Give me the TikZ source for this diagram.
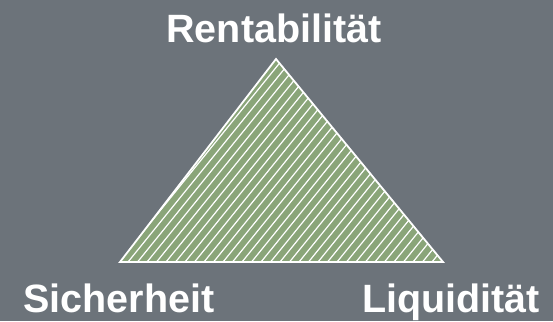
\documentclass[tikz,border=0pt]{standalone}
\usepackage{fontspec}
\setmainfont{Liberation Sans}
\usepackage{tikz}
\usetikzlibrary{positioning}
\definecolor{cBack}{HTML}{6C737A}
\definecolor{cLeaf}{HTML}{8AA579}
\definecolor{cChalk}{HTML}{FFFFFF}
\tikzset{
  corner/.style ={font=\fontsize{39.5}{42}\selectfont\bfseries,text=cChalk,
                  inner sep=0pt,anchor=base},
  hatch/.style  ={cChalk,line width=1.2pt},
  rim/.style    ={draw=cChalk,line width=1.8pt,line join=miter},
}

\begin{document}
\begin{tikzpicture}[x=1pt,y=1pt]
% background
\fill[cBack] (0,0) rectangle (553,321);
\useasboundingbox (0,0) rectangle (553,321);

% corners of the triangle
\coordinate (top)   at (276,262);
\coordinate (left)  at (120,59);
\coordinate (right) at (443,59);

% green area with white stripes
\fill[cLeaf] (left) -- (top) -- (right) -- cycle;
\begin{scope}
  \clip (left) -- (top) -- (right) -- cycle;
  \foreach \x in {-100,-90.5,...,450}
    \draw[hatch] (\x,59) -- ++(51:320);
\end{scope}
\draw[rim] (left) -- (top) -- (right) -- cycle;

% labels
\node[corner] (rent) at (274,278) {Rentabilität};
\node[corner] (sich) at (119,9)   {Sicherheit};
\node[corner] (liqu) at (451,9)   {Liquidität};
\end{tikzpicture}
\end{document}
